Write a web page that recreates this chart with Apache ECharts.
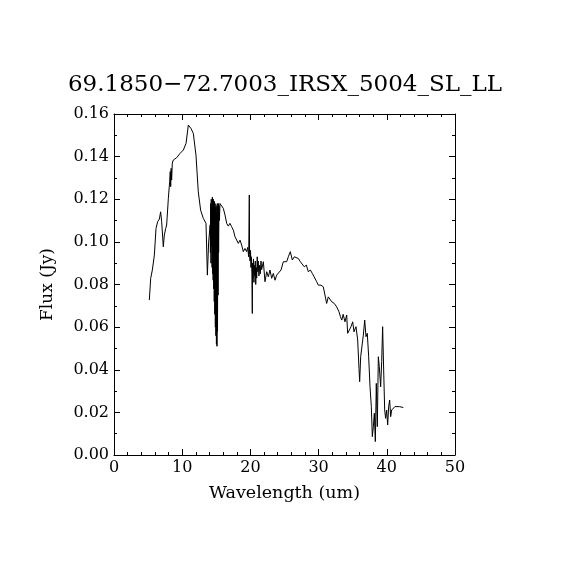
<!DOCTYPE html>
<html>
<head>
<meta charset="utf-8">
<script src="https://cdn.jsdelivr.net/npm/echarts@6/dist/echarts.min.js"></script>
<style>
html,body{margin:0;padding:0;background:#fff;}
#chart{width:570px;height:570px;}
</style>
</head>
<body>
<div id="chart"></div>
<script>
const titleText = "69.1850\u221272.7003_IRSX_5004_SL_LL";
const xLabel = "Wavelength (um)";
const yLabel = "Flux (Jy)";

const wavelength = [
5.18,5.38,5.62,5.92,6.16,6.40,6.65,6.84,6.99,7.23,7.38,7.58,7.72,7.97,8.16,8.25,8.31,8.38,8.45,8.55,8.70,9.19,9.68,10.17,10.56,10.90,11.29,11.63,12.02,12.36,12.70,13.10,13.49,13.69,13.88,
14.10,14.14,14.18,14.22,14.26,14.30,14.34,14.38,14.42,14.46,14.50,14.54,14.58,14.62,14.66,14.70,14.74,14.78,14.82,14.86,14.90,14.94,14.98,15.02,15.06,15.10,15.14,15.18,15.22,15.26,15.30,15.34,15.40,15.46,15.54,
15.79,16.03,16.28,16.52,16.76,17.00,17.25,17.50,17.74,17.99,18.23,18.48,18.72,18.96,19.20,19.45,19.60,19.75,19.84,19.88,19.95,20.02,20.08,20.15,20.22,20.28,20.32,20.38,20.45,20.52,20.58,20.65,20.72,20.78,20.85,20.92,21.00,21.08,21.15,21.25,21.35,21.45,21.55,21.65,
21.90,22.14,22.39,22.63,22.87,23.12,23.36,23.61,23.85,24.10,24.49,24.83,25.07,25.32,25.56,25.85,26.15,26.44,26.69,27.03,27.32,27.61,27.90,28.20,28.49,28.79,29.08,29.37,29.72,29.96,30.35,30.69,30.94,31.18,31.42,31.67,31.92,32.30,32.65,32.99,33.20,33.40,33.60,33.87,34.12,
34.26,34.50,34.75,35.00,35.19,35.48,35.73,35.92,36.02,36.17,36.41,36.56,36.76,36.95,37.14,37.34,37.54,37.73,37.88,38.03,38.17,38.32,38.46,38.61,38.76,38.90,39.10,39.25,39.39,39.54,39.69,39.83,39.98,40.13,40.27,40.42,40.57,40.71,40.95,41.20,41.45,41.83,42.42
];
const flux = [
0.0727,0.0829,0.0868,0.0938,0.1063,0.1095,0.1107,0.1141,0.1095,0.0977,0.1032,0.1063,0.1079,0.1204,0.1282,0.1330,0.1259,0.1345,0.1290,0.1370,0.1384,0.1395,0.1415,0.1431,0.1462,0.1548,0.1532,0.1509,0.1407,0.1235,0.1149,0.1110,0.1087,0.0844,0.1000,
0.108,0.095,0.118,0.090,0.120,0.098,0.116,0.088,0.121,0.085,0.119,0.082,0.120,0.078,0.117,0.072,0.119,0.066,0.118,0.060,0.116,0.056,0.117,0.052,0.114,0.051,0.118,0.058,0.116,0.075,0.118,0.095,0.117,0.110,0.118,
0.1173,0.1157,0.1126,0.1087,0.1074,0.1087,0.1071,0.1055,0.1024,0.1016,0.0993,0.1008,0.0985,0.0954,0.0969,0.0954,0.0974,0.0930,0.1220,0.0940,0.0910,0.0960,0.0880,0.0930,0.0850,0.0664,0.0900,0.0830,0.0920,0.0810,0.0890,0.0840,0.0910,0.0800,0.0880,0.0830,0.0930,0.0860,0.0910,0.0840,0.0890,0.0850,0.0910,0.0870,
0.0907,0.0813,0.0860,0.0836,0.0868,0.0829,0.0852,0.0820,0.0844,0.0852,0.0868,0.0907,0.0915,0.0907,0.0930,0.0954,0.0915,0.0930,0.0938,0.0922,0.0907,0.0915,0.0883,0.0891,0.0860,0.0868,0.0852,0.0844,0.0813,0.0797,0.0797,0.0789,0.0789,0.0711,0.0742,0.0750,0.0719,0.0711,0.0695,0.0672,0.0649,0.0633,0.0660,0.0625,0.0657,
0.0571,0.0563,0.0602,0.0625,0.0578,0.0602,0.0540,0.0407,0.0344,0.0461,0.0469,0.0563,0.0633,0.0555,0.0571,0.0461,0.0320,0.0227,0.0086,0.0133,0.0196,0.0063,0.0336,0.0133,0.0461,0.0414,0.0320,0.0438,0.0602,0.0399,0.0211,0.0172,0.0211,0.0141,0.0227,0.0258,0.0180,0.0211,0.0219,0.0227,0.0223,0.0227,0.0223
];
const xTicks = [0,10,20,30,40,50];
const yTicks = [0.00,0.02,0.04,0.06,0.08,0.10,0.12,0.14,0.16];

const pts = wavelength.map((w,i)=>[w,flux[i]]);
const font = "DejaVu Serif";
const chart = echarts.init(document.getElementById('chart'), null, {renderer:'canvas'});

const xBase = {
  type:'value', min:xTicks[0], max:xTicks[xTicks.length-1], interval:10,
  axisLine:{show:true,onZero:false,lineStyle:{color:'#000',width:1}},
  axisTick:{show:true,inside:true,length:6,lineStyle:{color:'#000'}},
  minorTick:{show:true,splitNumber:5,length:3,lineStyle:{color:'#000'}},
  splitLine:{show:false}
};
const yBase = {
  type:'value', min:yTicks[0], max:yTicks[yTicks.length-1], interval:0.02,
  axisLine:{show:true,onZero:false,lineStyle:{color:'#000',width:1}},
  axisTick:{show:true,inside:true,length:6,lineStyle:{color:'#000'}},
  minorTick:{show:true,splitNumber:2,length:3,lineStyle:{color:'#000'}},
  splitLine:{show:false}
};

chart.setOption({
  backgroundColor:'#fff',
  animation:false,
  title:{text:titleText,left:'center',top:69,textStyle:{fontFamily:font,fontSize:23,fontWeight:'normal',color:'#000'}},
  grid:{left:114,top:114,width:341,height:341},
  xAxis:[
    Object.assign({},xBase,{position:'bottom',
      name:xLabel,nameLocation:'middle',nameGap:29,
      nameTextStyle:{fontFamily:font,fontSize:17.5,color:'#000'},
      axisLabel:{fontFamily:font,fontSize:16,color:'#000',margin:5,formatter:v=>String(v)}}),
    Object.assign({},xBase,{position:'top',axisLabel:{show:false}})
  ],
  yAxis:[
    Object.assign({},yBase,{position:'left',
      name:yLabel,nameLocation:'middle',nameGap:58,nameRotate:90,
      nameTextStyle:{fontFamily:font,fontSize:17,color:'#000'},
      axisLabel:{fontFamily:font,fontSize:16,color:'#000',margin:5,formatter:v=>v.toFixed(2)}}),
    Object.assign({},yBase,{position:'right',axisLabel:{show:false}})
  ],
  series:[{
    type:'line', data:pts, xAxisIndex:0, yAxisIndex:0,
    showSymbol:false, symbol:'none',
    lineStyle:{color:'#000',width:1}
  }]
});
</script>
</body>
</html>
